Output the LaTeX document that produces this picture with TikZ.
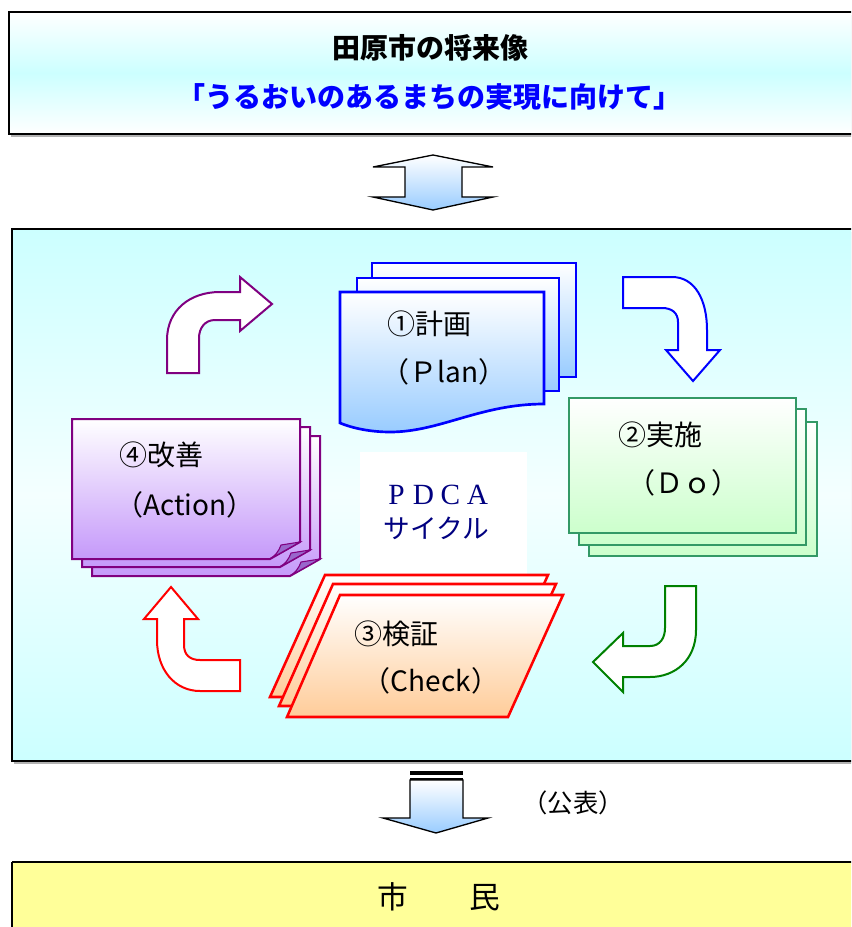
\documentclass[tikz,border=0pt]{standalone}
\usepackage{fontspec}
\setmainfont{Liberation Sans}
\newfontfamily\jp{Noto Sans CJK JP}
\newfontfamily\pdcafont{Liberation Serif}
\definecolor{cyanL}{HTML}{CCFFFF}
\definecolor{cyanW}{HTML}{F4FFFF}
\definecolor{blueL}{HTML}{99CCFF}
\definecolor{greenL}{HTML}{CCFFCC}
\definecolor{purpL}{HTML}{C599FA}
\definecolor{purpD}{HTML}{9966CC}
\definecolor{peach}{HTML}{FFCC99}
\definecolor{yellowL}{HTML}{FFFF99}
\definecolor{purp}{HTML}{800080}
\definecolor{greenB}{HTML}{339966}
\definecolor{greenA}{HTML}{008000}
\definecolor{navy}{HTML}{000080}
\definecolor{blueB}{HTML}{0000FF}
\definecolor{redB}{HTML}{FF0000}
\tikzset{
  panel/.style={draw=black,line width=1.5pt},
  bluedoc/.style={draw=blueB,line width=2pt},
  greendoc/.style={draw=greenB,line width=1.9pt},
  purpdoc/.style={draw=purp,line width=1.5pt},
  reddoc/.style={draw=redB,line width=1.9pt,line join=miter},
  bendarrow/.style={fill=white,line width=1.5pt,line join=miter},
  label/.style={font=\jp\fontsize{21}{24}\selectfont,inner sep=0pt,text=black},
}
\newcommand{\pbox}[1]{\makebox[20.25pt]{#1}}
\begin{document}
\begin{tikzpicture}[x=0.75pt,y=-0.75pt]
\useasboundingbox (0,0) rectangle (851,927);
\clip (0,0) rectangle (851,927);
\fill[white] (0,0) rectangle (851,927);

% ---------- top panel ----------
\fill[gray!60] (11,15) rectangle (870,137);
\shade[top color=white,bottom color=white,middle color=cyanL] (9,12) rectangle (870,134);
\draw[panel] (9,12) rectangle (870,134);
\node[font=\jp\bfseries\fontsize{21}{24}\selectfont,inner sep=0pt] (title1) at (430,48) {田原市の将来像};
\node[font=\jp\bfseries\fontsize{21}{24}\selectfont,text=blueB,inner sep=0pt] (title2) at (429,97) {「うるおいのあるまちの実現に向けて」};

% ---------- double arrow ----------
\shade[top color=white,bottom color=blueL,draw=black,line width=1pt]
 (433,155) -- (493,167) -- (462,167) -- (462,197) -- (493,197) -- (433,210)
 -- (373,197) -- (405,197) -- (405,167) -- (373,167) -- cycle;

% ---------- middle panel ----------
\fill[gray!60] (14,232) rectangle (870,764);
\shade[top color=cyanL,bottom color=cyanL,middle color=cyanW] (12,229) rectangle (870,761);
\draw[panel] (12,229) rectangle (870,761);

% PDCA white area
\fill[white] (360,452) rectangle (527,582);
\node[font=\pdcafont\fontsize{22}{24}\selectfont,text=navy,inner sep=0pt] (pdca) at (437,495) {\pbox{P}\pbox{D}\pbox{C}\pbox{A}};
\node[font=\jp\fontsize{20}{24}\selectfont,text=navy,inner sep=0pt] (cycle) at (436,528) {サイクル};

% ---------- Plan documents ----------
\shade[top color=white,bottom color=blueL] (372,263) rectangle (576,377);
\draw[bluedoc] (372,263) rectangle (576,377);
\shade[top color=white,bottom color=blueL] (357,278) rectangle (559,391);
\draw[bluedoc] (357,278) rectangle (559,391);
\shade[top color=white,bottom color=blueL]
 (340,292) -- (544,292) -- (544,404) .. controls (480,404) and (440,432) .. (390,432)
 .. controls (370,432) and (352,428) .. (340,423) -- cycle;
\draw[bluedoc]
 (340,292) -- (544,292) -- (544,404) .. controls (480,404) and (440,432) .. (390,432)
 .. controls (370,432) and (352,428) .. (340,423) -- cycle;
\node[label,anchor=west] (plan1) at (387,324) {①計画};
\node[label] (plan2) at (444,372) {（Ｐlan）};

% ---------- Do documents ----------
\shade[top color=white,bottom color=greenL] (589,422) rectangle (817,556);
\draw[greendoc] (589,422) rectangle (817,556);
\shade[top color=white,bottom color=greenL] (579,409) rectangle (806,545);
\draw[greendoc] (579,409) rectangle (806,545);
\shade[top color=white,bottom color=greenL] (569,398) rectangle (796,533);
\draw[greendoc] (569,398) rectangle (796,533);
\node[label,anchor=west] (do1) at (618,435) {②実施};
\node[label] (do2) at (683,483) {（Ｄｏ）};

% ---------- Check documents ----------
\shade[top color=white,bottom color=peach] (325,575) -- (548,575) -- (493,697) -- (270,697) -- cycle;
\draw[reddoc] (325,575) -- (548,575) -- (493,697) -- (270,697) -- cycle;
\shade[top color=white,bottom color=peach] (333,584) -- (556,584) -- (501,706) -- (279,706) -- cycle;
\draw[reddoc] (333,584) -- (556,584) -- (501,706) -- (279,706) -- cycle;
\shade[top color=white,bottom color=peach] (340,595) -- (563,595) -- (508,717) -- (287,717) -- cycle;
\draw[reddoc] (340,595) -- (563,595) -- (508,717) -- (287,717) -- cycle;
\node[label,anchor=west] (check1) at (354,634) {③検証};
\node[label] (check2) at (431,681) {（Check）};

% ---------- Action documents ----------
\foreach \dx/\dy in {20/17,10/8,0/0}{
  \begin{scope}[shift={(\dx,\dy)}]
  \shade[top color=white,bottom color=purpL] (72,419) -- (300,419) -- (300,542) -- (270,559) -- (72,559) -- cycle;
  \draw[purpdoc] (72,419) -- (300,419) -- (300,542) -- (270,559) -- (72,559) -- cycle;
  \filldraw[fill=purpD,draw=purp,line width=0.8pt] (300,542) -- (281,545)
     .. controls (279,551) and (275,556) .. (270,559) -- cycle;
  \end{scope}
}
\node[label,anchor=west] (act1) at (119,455) {④改善};
\node[label] (act2) at (185,505) {（Action）};

% ---------- cycle arrows ----------
\draw[bendarrow,draw=purp] (167,373) -- (167,340) .. controls (167,310) and (190,292) .. (220,292)
 -- (240,292) -- (240,277) -- (272,304) -- (240,331) -- (240,320) -- (215,320)
 .. controls (205,320) and (199,328) .. (199,338) -- (199,373) -- cycle;
\draw[bendarrow,draw=blueB] (623,277) -- (672,277) .. controls (695,277) and (707,300) .. (707,330)
 -- (707,350) -- (720,350) -- (693,381) -- (666,350) -- (678,350) -- (678,322)
 .. controls (678,313) and (672,308) .. (662,308) -- (623,308) -- cycle;
\draw[bendarrow,draw=greenA] (696,586) -- (696,630) .. controls (696,660) and (675,677) .. (650,677)
 -- (623,677) -- (623,692) -- (593,662) -- (623,633) -- (623,646) -- (650,646)
 .. controls (660,646) and (665,638) .. (665,628) -- (665,586) -- cycle;
\draw[bendarrow,draw=redB] (171,587) -- (198,619) -- (184,619) -- (184,645)
 .. controls (184,655) and (190,660) .. (200,660) -- (240,660) -- (240,691) -- (200,691)
 .. controls (175,691) and (157,670) .. (157,640) -- (157,619) -- (144,619) -- cycle;

% ---------- bottom arrow ----------
\fill[black] (410,771) rectangle (463,775);
\draw[black,line width=1pt] (410,779) -- (463,779);
\shade[top color=white,bottom color=blueL,draw=black,line width=1pt]
 (410,780) -- (463,780) -- (463,818) -- (488,818) -- (436,833) -- (383,818) -- (410,818) -- cycle;
\node[font=\jp\fontsize{19}{22}\selectfont,inner sep=0pt] (koho) at (573,803) {（公表）};

% ---------- bottom panel ----------
\fill[yellowL] (12,862) rectangle (870,940);
\draw[panel] (12,862) -- (870,862) (12,862) -- (12,940);
\node[font=\jp\fontsize{23}{26}\selectfont,inner sep=0pt] (shimin) at (439,897) {市　　民};
\end{tikzpicture}
\end{document}
